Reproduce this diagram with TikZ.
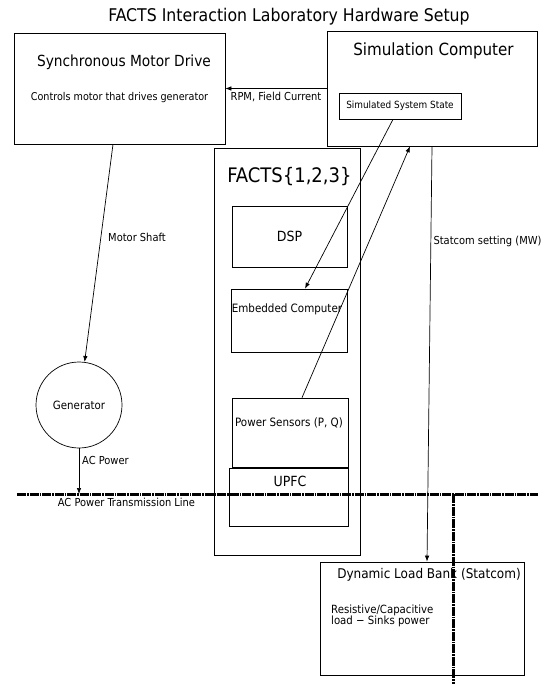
\documentclass[tikz,border=0pt]{standalone}
\usepackage{fontspec}
\setmainfont{DejaVu Sans Condensed}
\usepackage{tikz}
\usetikzlibrary{shapes,arrows,positioning,calc,arrows.meta}

\tikzset{
    box/.style={draw, line width=0.7pt, inner sep=0pt},
    lbl/.style={inner sep=0pt, font=\fontsize{11}{11}\selectfont},
    arr/.style={line width=0.7pt, -{Latex[length=6pt,width=4.5pt]}},
    powerline/.style={line width=3pt, dash pattern=on 9pt off 1pt on 1.5pt off 1pt}
}

\begin{document}
\begin{tikzpicture}[x=1pt, y=-1pt]
    \useasboundingbox (0,0) rectangle (544,684);
    \node[inner sep=0pt, font=\fontsize{17.5}{17.5}\selectfont] (title) at (289,17) {FACTS Interaction Laboratory Hardware Setup};

    % Synchronous Motor Drive
    \node[box, minimum width=211pt, minimum height=111pt] (drive) at (119.5,88.5) {};
    \node[lbl, font=\fontsize{15.3}{15.3}\selectfont] (drivetitle) at (124,62) {Synchronous Motor Drive};
    \node[lbl, font=\fontsize{10.7}{10.7}\selectfont] (drivetext) at (119.5,98) {Controls motor that drives generator};

    % Simulation Computer
    \node[box, minimum width=210pt, minimum height=115pt] (sim) at (432,88.5) {};
    \node[lbl, font=\fontsize{16.8}{16.8}\selectfont] (simtitle) at (433.5,51) {Simulation Computer};
    \node[box, minimum width=122pt, minimum height=26pt, font=\fontsize{9.9}{9.9}\selectfont] (state) at (400,106) {Simulated System State};

    % FACTS{1,2,3}
    \node[box, minimum width=146pt, minimum height=407pt] (facts) at (287,351.5) {};
    \node[lbl, font=\fontsize{20}{20}\selectfont] (factstitle) at (289.5,177) {FACTS\{1,2,3\}};
    \node[box, minimum width=115pt, minimum height=61pt, font=\fontsize{14}{14}\selectfont] (dsp) at (289.5,236.5) {DSP};
    \node[box, minimum width=116pt, minimum height=63pt] (emb) at (289,320.5) {};
    \node[lbl, font=\fontsize{11.5}{11.5}\selectfont] (embtext) at (287,309) {Embedded Computer};
    \node[box, minimum width=116pt, minimum height=69pt] (sens) at (290,432.5) {};
    \node[lbl, font=\fontsize{11.5}{11.5}\selectfont] (senstext) at (289,423) {Power Sensors (P, Q)};
    \node[box, minimum width=119pt, minimum height=58pt] (upfc) at (288.5,497) {};
    \node[lbl, font=\fontsize{14}{14}\selectfont] (upfctext) at (290,481) {UPFC};

    % Generator
    \node[box, circle, minimum size=86pt, font=\fontsize{11.4}{11.4}\selectfont] (gen) at (79,405) {Generator};

    % Dynamic Load Bank
    \node[box, minimum width=204pt, minimum height=113pt] (load) at (422,618.5) {};
    \node[lbl, font=\fontsize{13.4}{13.4}\selectfont] (loadtitle) at (429,575) {Dynamic Load Bank (Statcom)};
    \node[lbl, anchor=north west, align=left, font=\fontsize{11.3}{11}\selectfont] (loadtext) at (331,605) {Resistive/Capacitive\\load − Sinks power};

    % connections
    \draw[arr] (sim.west) -- (drive.east);
    \node[lbl] (rpm) at (276,97) {RPM, Field Current};
    \draw[arr] ([xshift=-6.5pt]drive.south) -- (gen);
    \node[lbl] (shaft) at (137,237) {Motor Shaft};
    \draw[arr] ([xshift=-7pt]state.south) -- ([xshift=16pt]emb.north);
    \draw[arr] ([xshift=12pt]sens.north) -- ([xshift=-22pt]sim.south);
    \draw[arr] (sim.south) -- ([xshift=5pt]load.north);
    \node[lbl] (statcom) at (487.5,241) {Statcom setting (MW)};

    % AC power transmission line
    \coordinate (tlw) at (17,494);
    \coordinate (tle) at (538,494);
    \coordinate (tap) at (453,494);
    \coordinate (tapend) at (453,684);
    \draw[arr] (gen.south) -- (gen.south |- tlw);
    \node[lbl, anchor=west] (acpower) at (82,460) {AC Power};
    \draw[powerline] (tlw) -- (tle);
    \draw[powerline] (tap) -- (tapend);
    \node[lbl] (tltext) at (126.5,502) {AC Power Transmission Line};
\end{tikzpicture}
\end{document}
